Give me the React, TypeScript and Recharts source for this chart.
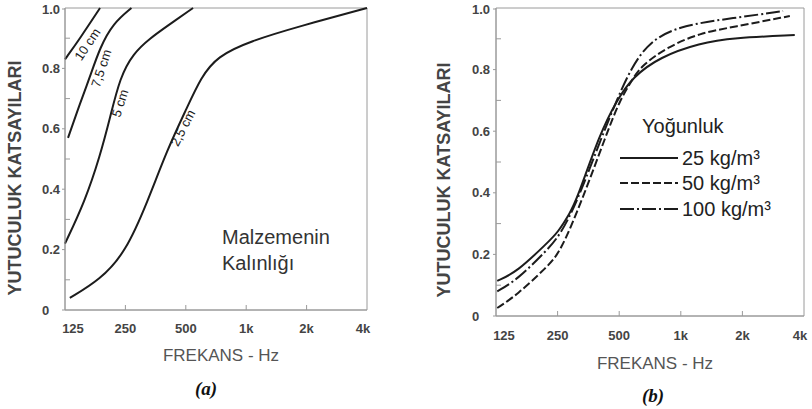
import { Customized, Line, LineChart, ReferenceArea, ReferenceDot, XAxis, YAxis } from "recharts";

// x is in octave steps: 0 = 125 Hz ... 5 = 4 kHz
const octaveSteps = [0, 1, 2, 3, 4, 5];
const octaveLabels = ["125", "250", "500", "1k", "2k", "4k"];
const coefTicks = [0, 0.1, 0.2, 0.3, 0.4, 0.5, 0.6, 0.7, 0.8, 0.9, 1.0];

// (a) absorption vs. material thickness, [octave step, coefficient]
const thick25 = [[0.08, 0.04], [0.58, 0.1], [1.0, 0.19], [1.37, 0.36], [1.69, 0.53], [2.02, 0.67], [2.25, 0.77], [2.52, 0.84], [3.06, 0.89], [3.89, 0.94], [5.0, 1.0]];
const thick5 = [[0, 0.22], [0.33, 0.36], [0.58, 0.51], [0.75, 0.64], [0.91, 0.77], [1.13, 0.85], [1.41, 0.9], [1.69, 0.94], [2.12, 1.0]];
const thick75 = [[0.05, 0.57], [0.25, 0.685], [0.41, 0.77], [0.58, 0.87], [0.8, 0.95], [1.1, 1.0]];
const thick10 = [[0, 0.83], [0.25, 0.9], [0.58, 1.0]];
const thicknessNames = ["2,5 cm", "5 cm", "7,5 cm", "10 cm"];

// (b) absorption vs. density
const dens25 = [[0.02, 0.114], [0.34, 0.143], [0.83, 0.237], [1.0, 0.27], [1.2, 0.334], [1.31, 0.377], [1.69, 0.594], [1.96, 0.7], [2.22, 0.776], [2.66, 0.841], [3.31, 0.886], [3.85, 0.903], [4.85, 0.912]];
const dens50 = [[0.02, 0.026], [0.34, 0.068], [0.83, 0.16], [1.04, 0.205], [1.4, 0.377], [1.8, 0.594], [2.01, 0.7], [2.18, 0.756], [2.34, 0.81], [2.78, 0.873], [3.31, 0.919], [3.85, 0.938], [4.77, 0.974]];
const dens100 = [[0.02, 0.08], [0.34, 0.117], [0.83, 0.214], [1.04, 0.263], [1.31, 0.367], [1.74, 0.594], [1.96, 0.7], [2.18, 0.8], [2.5, 0.896], [3.04, 0.945], [3.85, 0.967], [4.66, 0.99]];
const densityNames = ["25 kg/m³", "50 kg/m³", "100 kg/m³"];

const toPts = (arr: number[][]) => arr.map(([f, a]) => ({ f, a }));

const FONT = "'Liberation Sans', Arial, sans-serif";
const INK = "#1c1c1c";
const FRAME = "#9a9a9a";

function YTick({ x, y, payload, labelOffset }: any) {
  const v = payload.value;
  const major = Math.round(v * 10) % 2 === 0;
  return (
    <g>
      {major ? (
        <line x1={x - 3} x2={x} y1={y} y2={y} stroke={FRAME} />
      ) : (
        <line x1={x} x2={x + 5} y1={y} y2={y} stroke={FRAME} />
      )}
      {major && (
        <text x={x - labelOffset} y={y} dy="0.35em" fontSize={13} fontFamily={FONT} fill="#444" fontWeight={600}>
          {v === 0 ? "0" : v.toFixed(1)}
        </text>
      )}
    </g>
  );
}

function XTick({ x, y, payload, labelDy }: any) {
  const i = payload.value;
  const shift = i === 0 ? 8 : i === 5 ? -4 : 0;
  return (
    <g>
      {i > 0 && i < 5 && <line x1={x} x2={x} y1={y} y2={y - 5} stroke={FRAME} />}
      <text x={x + shift} y={y + labelDy} dy="0.35em" textAnchor="middle" fontSize={13} fontFamily={FONT} fill="#444" fontWeight={600}>
        {octaveLabels[i]}
      </text>
    </g>
  );
}

function CurveTag({ viewBox, text, angle }: any) {
  const cx = viewBox?.x ?? 0;
  const cy = viewBox?.y ?? 0;
  return (
    <text
      x={cx}
      y={cy}
      transform={`rotate(${angle}, ${cx}, ${cy})`}
      textAnchor="middle"
      dominantBaseline="central"
      fontSize={13}
      fontFamily={FONT}
      fill={INK}
    >
      {text}
    </text>
  );
}

function Titles({ yx, yy, xx, xy, cap, capx, capy }: any) {
  return (
    <g fontFamily={FONT}>
      <text
        x={yx}
        y={yy}
        transform={`rotate(-90, ${yx}, ${yy})`}
        textAnchor="middle"
        dominantBaseline="central"
        fontSize={18}
        fontWeight="bold"
        fill="#444"
      >
        YUTUCULUK KATSAYILARI
      </text>
      <text x={xx} y={xy} textAnchor="middle" dominantBaseline="central" fontSize={17} fill="#555">
        FREKANS - Hz
      </text>
      <text
        x={capx}
        y={capy}
        textAnchor="middle"
        dominantBaseline="central"
        fontSize={19}
        fontWeight="bold"
        fontStyle="italic"
        fontFamily="'Liberation Serif', 'Times New Roman', serif"
        fill="#111"
      >
        {cap}
      </text>
    </g>
  );
}

function ThicknessNote() {
  return (
    <g fontFamily={FONT} fontSize={20} fill="#333">
      <text x={222} y={244}>Malzemenin</text>
      <text x={222} y={270}>Kalınlığı</text>
    </g>
  );
}

const densityDash = ["", "8 3", "14 3 2 3"];

function DensityLegend() {
  const rows = [158, 183, 209];
  return (
    <g fontFamily={FONT} fill="#222">
      <text x={242} y={133} fontSize={20}>Yoğunluk</text>
      {densityNames.map((name, k) => (
        <g key={name}>
          <line x1={220} x2={278} y1={rows[k]} y2={rows[k]} stroke={INK} strokeWidth={1.8} strokeDasharray={densityDash[k]} />
          <text x={282} y={rows[k]} dy="0.35em" fontSize={20}>
            {name}
          </text>
        </g>
      ))}
    </g>
  );
}

function ThicknessChart() {
  const series = [thick25, thick5, thick75, thick10];
  const tags = [
    { f: 1.95, a: 0.603, angle: -63 },
    { f: 0.91, a: 0.685, angle: -72 },
    { f: 0.6, a: 0.8, angle: -72 },
    { f: 0.37, a: 0.88, angle: -56 },
  ];
  return (
    <LineChart width={400} height={409} margin={{ top: 8, right: 33, left: 0, bottom: 0 }}>
      <XAxis
        type="number"
        dataKey="f"
        domain={[0, 5]}
        ticks={octaveSteps}
        height={99}
        tickSize={0}
        tickMargin={0}
        tick={<XTick labelDy={18} />}
        stroke={FRAME}
      />
      <YAxis
        type="number"
        domain={[0, 1]}
        ticks={coefTicks}
        width={65}
        tickSize={0}
        tickMargin={0}
        tick={<YTick labelOffset={23} />}
        stroke={FRAME}
      />
      <ReferenceArea x1={0} x2={5} y1={0} y2={1} fill="none" fillOpacity={0} stroke={FRAME} strokeWidth={1} />
      {series.map((s, k) => (
        <Line
          key={thicknessNames[k]}
          data={toPts(s)}
          dataKey="a"
          type="basis"
          stroke={INK}
          strokeWidth={2}
          dot={false}
          isAnimationActive={false}
        />
      ))}
      {tags.map((t, k) => (
        <ReferenceDot
          key={thicknessNames[k]}
          x={t.f}
          y={t.a}
          r={0}
          fill="none"
          stroke="none"
          label={(p: any) => <CurveTag {...p} text={thicknessNames[k]} angle={t.angle} />}
        />
      ))}
      <Customized component={<ThicknessNote />} />
      <Customized component={<Titles yx={15} yy={178} xx={221} xy={355} cap="(a)" capx={206} capy={388} />} />
    </LineChart>
  );
}

function DensityChart() {
  const series = [dens25, dens50, dens100];
  return (
    <LineChart width={412} height={409} margin={{ top: 8, right: 8, left: 0, bottom: 0 }}>
      <XAxis
        type="number"
        dataKey="f"
        domain={[0, 5]}
        ticks={octaveSteps}
        height={93}
        tickSize={0}
        tickMargin={0}
        tick={<XTick labelDy={19} />}
        stroke={FRAME}
      />
      <YAxis
        type="number"
        domain={[0, 1]}
        ticks={coefTicks}
        width={96}
        tickSize={0}
        tickMargin={0}
        tick={<YTick labelOffset={24} />}
        stroke={FRAME}
      />
      <ReferenceArea x1={0} x2={5} y1={0} y2={1} fill="none" fillOpacity={0} stroke={FRAME} strokeWidth={1} />
      {series.map((s, k) => (
        <Line
          key={densityNames[k]}
          data={toPts(s)}
          dataKey="a"
          type="basis"
          stroke={INK}
          strokeWidth={2}
          strokeDasharray={densityDash[k]}
          dot={false}
          isAnimationActive={false}
        />
      ))}
      <Customized component={<DensityLegend />} />
      <Customized component={<Titles yx={44} yy={180} xx={255} xy={363} cap="(b)" capx={253} capy={395} />} />
    </LineChart>
  );
}

export default function App() {
  return (
    <div style={{ position: "absolute", left: 0, top: 0, width: 812, height: 409, background: "#fff" }}>
      <div style={{ position: "absolute", left: 0, top: 0 }}>
        <ThicknessChart />
      </div>
      <div style={{ position: "absolute", left: 400, top: 0 }}>
        <DensityChart />
      </div>
    </div>
  );
}
